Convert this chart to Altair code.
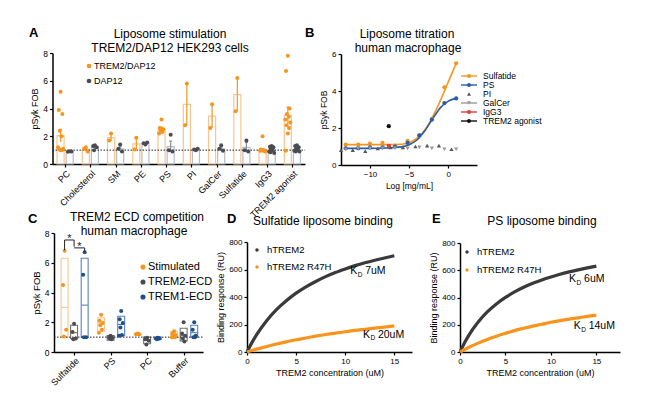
import altair as alt
import pandas as pd

W, H = 634, 381
FONT = "Liberation Sans"


def px(v):
    return v - 8


def py(v):
    return v - 8


ORANGE = "#F7941D"
ORANGE_L = "#F8C590"
DGRAY = "#4B4B53"
LGRAY = "#B5BEC8"
BLUE = "#1F4E8C"
BLUE_L = "#5A80BA"

# ---------------- Panel A data ----------------
cats_a = ["PC", "Cholesterol", "SM", "PE", "PS", "PI", "GalCer", "Sulfatide", "IgG3", "TREM2 agonist"]
series_a = ["TREM2/DAP12", "DAP12"]
trem_mean = [2.05, 1.05, 1.9, 1.45, 2.5, 4.3, 3.45, 5.0, 1.0, 3.5]
trem_sem = [0.45, 0.1, 0.25, 0.4, 0.15, 1.5, 0.85, 1.2, 0.1, 0.6]
dap_mean = [0.9, 1.2, 1.1, 1.5, 1.25, 1.05, 1.1, 1.2, 1.0, 1.0]
dap_sem = [0.02, 0.08, 0.15, 0.05, 0.4, 0.04, 0.12, 0.35, 0.06, 0.06]
trem_pts = [
    [5.2, 3.9, 3.6, 2.4, 2.0, 1.2, 1.1, 1.05, 1.0, 1.0],
    [1.2, 1.1, 0.9],
    [2.2, 1.7],
    [1.9, 1.05],
    [3.2, 2.6, 2.5, 2.4, 2.3, 2.2],
    [5.8, 2.8],
    [4.3, 2.6],
    [6.2, 3.8],
    [2.0, 1.05, 1.0, 1.0, 0.95, 0.95, 0.9, 1.0],
    [7.8, 6.7, 4.0, 3.6, 3.4, 3.2, 3.0, 2.8, 2.6, 2.2, 0.95],
]
dap_pts = [
    [0.92, 0.88, 0.9],
    [1.35, 1.3, 1.2, 1.0],
    [1.4, 1.1, 0.9],
    [1.4, 1.5, 1.55],
    [2.1, 1.0, 0.9],
    [1.0, 1.05, 1.1],
    [1.35, 1.1, 0.95],
    [1.7, 1.0, 0.9],
    [1.3, 1.25, 1.2, 1.1, 1.0, 0.9, 0.8, 0.85],
    [1.35, 1.3, 1.2, 1.1, 1.0, 0.95, 0.9, 0.9],
]
jitter = [0.0, -0.07, 0.07, -0.035, 0.035, -0.1, 0.1, -0.05, 0.05, 0.0, -0.08]
ref_line = 1.0

# ---------------- Panel B data ----------------
series_b = ["Sulfatide", "PS", "PI", "GalCer", "IgG3", "TREM2 agonist"]
colors_b = [ORANGE, "#2A5CA8", "#555555", "#9A9A9A", "#E53935", "#111111"]
shapes_b = ["circle", "circle", "triangle-up", "triangle-down", "circle", "circle"]
legend_line_b = [True, True, False, True, True, True]
b_x = [-13.1, -11.5, -10.0, -8.4, -6.8, -5.2, -3.7, -2.1, -0.5, 1.0]
b_sulf = [1.1, 1.1, 1.15, 1.2, 1.05, 1.3, 1.6, 2.5, 4.2, 5.5]
b_ps = [0.9, 0.9, 0.95, 0.95, 1.0, 1.2, 1.6, 2.45, 3.35, 3.6]
b_pi_x = [-13.7, -12.2, -10.6, -9.0, -7.4, -5.8, -4.2, -2.7, -1.2, 0.4]
b_pi = [0.8, 0.8, 0.75, 0.9, 0.95, 0.95, 1.0, 1.05, 1.05, 0.85]
b_galcer = [0.85, 0.9, 0.9, 0.9, 0.9, 0.9, 0.95, 0.9, 0.85, 0.85]
b_igg3_x, b_igg3 = [-7.6], [1.04]
b_ago_x, b_ago = [-7.6], [2.1]
b_fit_x = [-13.1, -10.0, -8.0, -6.0, -5.0, -4.0, -3.0, -2.0, -1.0, 0.0, 1.0]
b_sulf_fit = [1.1, 1.1, 1.1, 1.12, 1.2, 1.45, 1.9, 2.6, 3.5, 4.5, 5.5]
b_ps_fit = [0.9, 0.9, 0.92, 0.98, 1.1, 1.35, 1.85, 2.5, 3.1, 3.45, 3.6]

# ---------------- Panel C data ----------------
cats_c = ["Sulfatide", "PS", "PC", "Buffer"]
series_c = ["Stimulated", "TREM2-ECD", "TREM1-ECD"]
offs_c = [-0.26, 0.0, 0.29]
point_col_c = [ORANGE, DGRAY, BLUE]
box_col_c = [ORANGE_L, "#707070", BLUE_L]
stim_lo, stim_hi, stim_mid = [1.0, 1.4, 1.15, 1.0], [6.3, 2.3, 1.25, 1.4], [3.0, 1.9, 1.2, 1.15]
t2_lo, t2_hi, t2_mid = [0.9, 0.8, 0.55, 0.75], [1.8, 1.1, 1.0, 1.6], [1.3, 0.95, 0.8, 1.1]
t1_lo, t1_hi, t1_mid = [1.0, 1.1, 0.85, 1.0], [6.3, 2.4, 1.0, 1.8], [3.15, 1.85, 0.9, 1.3]
stim_pts = [[6.8, 4.5, 1.5, 1.05], [2.5, 2.1, 1.95, 1.8, 1.5, 1.3], [1.25, 1.2, 1.2, 1.2], [1.4, 1.25, 1.15, 1.1, 1.0, 1.0]]
t2_pts = [[1.9, 1.35, 0.9, 0.85], [1.1, 1.0, 0.95, 0.9, 0.85], [0.95, 0.85, 0.75, 0.5], [2.0, 1.25, 1.1, 0.9, 0.7]]
t1_pts = [[6.7, 5.2, 1.0, 1.0], [2.75, 2.2, 1.95, 1.65, 1.15, 1.1], [0.95, 0.9, 0.9, 0.85, 0.9], [2.0, 1.5, 1.1, 1.0, 1.0]]
br_x0, br_x1 = [-0.26, 0.0], [0.0, 0.29]
br_y, br_leg0, br_leg1 = [7.53, 7.0], [6.85, 7.0], [7.08, 6.74]

# ---------------- Panels D / E data ----------------
series_de = ["hTREM2", "hTREM2 R47H"]
conc = [0, 0.5, 1, 2, 3, 4, 5, 6, 7, 8, 9, 10, 11, 12, 13, 14, 15]
d_wt = [0, 68, 128, 228, 308, 373, 428, 474, 513, 548, 578, 604, 628, 649, 667, 684, 700]
d_mut = [0, 11, 21, 40, 58, 74, 89, 102, 115, 127, 137, 147, 157, 165, 173, 181, 190]
e_wt = [0, 68, 126, 220, 294, 353, 401, 441, 475, 504, 529, 551, 571, 588, 603, 617, 630]
e_mut = [0, 18, 35, 65, 92, 116, 137, 157, 174, 190, 204, 218, 230, 241, 251, 261, 270]
kd_d_x, kd_d_y, kd_d_txt = [10.5, 11.8], [567, 102], ["7uM", "20uM"]
kd_e_x, kd_e_y, kd_e_txt = [12.0, 12.5], [511, 167], ["6uM", "14uM"]


# ---------------- helpers ----------------
def lin(dom, r0, r1):
    return alt.Scale(domain=dom, range=[r0, r1], nice=False, zero=False)


A_X = lin([-0.5, 9.5], px(52.5), px(305))
A_Y = lin([0, 8], py(164), py(53))
B_X = lin([-13.7, 3.66], px(341), px(477))
B_Y = lin([0, 6], py(165), py(54))
C_X = lin([-0.55, 3.53], px(54), px(203))
C_Y = lin([0, 8], py(352), py(233))
D_X = lin([0, 16.8], px(247), px(412))
D_Y = lin([0, 800], py(352), py(242))
E_X = lin([0, 17.6], px(460), px(620))
E_Y = lin([0, 800], py(352), py(243))


def X(field, sc, axis=None):
    return alt.X(field, type="quantitative", scale=sc, axis=axis)


def Y(field, sc, axis=None):
    return alt.Y(field, type="quantitative", scale=sc, axis=axis)


def xaxis(bottom, values, title, **kw):
    return alt.Axis(orient="bottom", offset=py(bottom) - H, values=values, title=title,
                    labelFlush=False, labelOverlap=False, **kw)


def yaxis(left, values, title, **kw):
    return alt.Axis(orient="left", offset=-px(left), values=values, title=title,
                    labelFlush=False, labelOverlap=False, **kw)


def txt(s, x, y, size=12, weight="normal", align="center"):
    return alt.Chart(pd.DataFrame({"t": [s]})).mark_text(
        fontSize=size, fontWeight=weight, align=align, baseline="alphabetic", font=FONT, color="black"
    ).encode(x=alt.value(px(x)), y=alt.value(py(y)), text="t:N")


def label_expr(names):
    return "[" + ",".join("'" + n + "'" for n in names) + "][datum.value]"


layers = []

# ---------------- Panel A ----------------
rows = []
for i in range(len(cats_a)):
    rows.append(dict(s=series_a[0], xc=i - 0.18, m=trem_mean[i], e=trem_sem[i]))
    rows.append(dict(s=series_a[1], xc=i + 0.18, m=dap_mean[i], e=dap_sem[i]))
bar_a = pd.DataFrame(rows)
bar_a["x0"] = bar_a.xc - 0.14
bar_a["x1"] = bar_a.xc + 0.14
bar_a["b"] = 0.0
bar_a["lo"] = bar_a.m - bar_a.e
bar_a["hi"] = bar_a.m + bar_a.e
bar_a["c0"] = bar_a.xc - 0.06
bar_a["c1"] = bar_a.xc + 0.06

prow = []
for i in range(len(cats_a)):
    for k, v in enumerate(trem_pts[i]):
        prow.append(dict(s=series_a[0], x=i - 0.18 + jitter[k % len(jitter)], v=v))
    for k, v in enumerate(dap_pts[i]):
        prow.append(dict(s=series_a[1], x=i + 0.18 + jitter[k % len(jitter)], v=v))
pts_a = pd.DataFrame(prow)

col_a_err = alt.Color("s:N", scale=alt.Scale(domain=series_a, range=[ORANGE, "#8A939C"]), legend=None)
col_a_pt = alt.Color("s:N", scale=alt.Scale(domain=series_a, range=[ORANGE, DGRAY]), legend=None)

layers.append(alt.Chart(bar_a).mark_rect(fill="white", fillOpacity=0.4, strokeWidth=1.2).encode(
    x=X("x0", A_X, xaxis(164, list(range(len(cats_a))), None, labelExpr=label_expr(cats_a), labelAngle=-45,
                          labelAlign="right", labelBaseline="top", labelFontSize=9)),
    x2="x1:Q",
    y=Y("m", A_Y, yaxis(52.5, [0, 2, 4, 6, 8], "pSyk FOB")),
    y2="b:Q",
    stroke=alt.Stroke("s:N", scale=alt.Scale(domain=series_a, range=[ORANGE_L, LGRAY]), legend=None),
))
layers.append(alt.Chart(bar_a).mark_rule(strokeWidth=1.2).encode(
    x=X("xc", A_X), y=Y("lo", A_Y), y2="hi:Q", color=col_a_err))
layers.append(alt.Chart(bar_a).mark_rule(strokeWidth=1.2).encode(
    x=X("c0", A_X), x2="c1:Q", y=Y("hi", A_Y), color=col_a_err))
layers.append(alt.Chart(pd.DataFrame({"x0": [-0.5], "x1": [9.5], "y": [ref_line]})).mark_rule(
    color="#222222", strokeDash=[1.5, 1.5], strokeWidth=1).encode(
    x=X("x0", A_X), x2="x1:Q", y=Y("y", A_Y)))
layers.append(alt.Chart(pts_a).mark_circle(size=16, opacity=1).encode(
    x=X("x", A_X), y=Y("v", A_Y), color=col_a_pt))

leg_a = pd.DataFrame({"s": series_a, "r": list(range(len(series_a)))})
LA_Y = lin([0, 1], py(66), py(81))
layers.append(alt.Chart(leg_a).mark_circle(size=22, opacity=1).encode(
    x=alt.value(px(89)), y=Y("r", LA_Y), color=col_a_pt))
layers.append(alt.Chart(leg_a).mark_text(align="left", baseline="middle", fontSize=9, font=FONT, color="black").encode(
    x=alt.value(px(94)), y=Y("r", LA_Y), text="s:N"))

# ---------------- Panel B ----------------
brow = []
for x, v in zip(b_x, b_sulf):
    brow.append(dict(s="Sulfatide", x=x, v=v))
for x, v in zip(b_x, b_ps):
    brow.append(dict(s="PS", x=x, v=v))
for x, v in zip(b_pi_x, b_pi):
    brow.append(dict(s="PI", x=x, v=v))
for x, v in zip(b_x, b_galcer):
    brow.append(dict(s="GalCer", x=x, v=v))
for x, v in zip(b_igg3_x, b_igg3):
    brow.append(dict(s="IgG3", x=x, v=v))
for x, v in zip(b_ago_x, b_ago):
    brow.append(dict(s="TREM2 agonist", x=x, v=v))
pts_b = pd.DataFrame(brow)
fit_b = pd.DataFrame(
    [dict(s="Sulfatide", x=x, v=v) for x, v in zip(b_fit_x, b_sulf_fit)]
    + [dict(s="PS", x=x, v=v) for x, v in zip(b_fit_x, b_ps_fit)])

col_b = alt.Color("s:N", scale=alt.Scale(domain=series_b, range=colors_b), legend=None)
shp_b = alt.Shape("s:N", scale=alt.Scale(domain=series_b, range=shapes_b), legend=None)

layers.append(alt.Chart(fit_b).mark_line(interpolate="monotone", strokeWidth=1.6).encode(
    x=X("x", B_X, xaxis(165, [-10, -5, 0], "Log [mg/mL]", labelFontSize=8, titleFontSize=8.5)),
    y=Y("v", B_Y, yaxis(341, [0, 2, 4, 6], "pSyk FOB", labelFontSize=8, titleFontSize=8.5)),
    color=col_b, detail="s:N"))
layers.append(alt.Chart(pts_b).mark_point(filled=True, size=18, opacity=1).encode(
    x=X("x", B_X), y=Y("v", B_Y), color=col_b, shape=shp_b))

leg_b = pd.DataFrame({"s": series_b, "r": list(range(len(series_b))), "line": legend_line_b})
LB_Y = lin([0, 5], py(76), py(121))
layers.append(alt.Chart(leg_b[leg_b.line]).mark_rule(strokeWidth=1.4).encode(
    x=alt.value(px(461)), x2=alt.value(px(477)), y=Y("r", LB_Y), color=col_b))
layers.append(alt.Chart(leg_b).mark_point(filled=True, size=16, opacity=1).encode(
    x=alt.value(px(469)), y=Y("r", LB_Y), color=col_b, shape=shp_b))
layers.append(alt.Chart(leg_b).mark_text(align="left", baseline="middle", fontSize=8.5, font=FONT, color="black").encode(
    x=alt.value(px(483)), y=Y("r", LB_Y), text="s:N"))

# ---------------- Panel C ----------------
lo_c = [stim_lo, t2_lo, t1_lo]
hi_c = [stim_hi, t2_hi, t1_hi]
mid_c = [stim_mid, t2_mid, t1_mid]
pts_c_all = [stim_pts, t2_pts, t1_pts]
crow, cprow = [], []
for j, s in enumerate(series_c):
    for i in range(len(cats_c)):
        xc = i + offs_c[j]
        crow.append(dict(s=s, xc=xc, x0=xc - 0.095, x1=xc + 0.095, lo=lo_c[j][i], hi=hi_c[j][i], mid=mid_c[j][i]))
        for k, v in enumerate(pts_c_all[j][i]):
            cprow.append(dict(s=s, x=xc + 0.6 * jitter[k % len(jitter)], v=v))
box_c = pd.DataFrame(crow)
pts_c = pd.DataFrame(cprow)
col_c_box = alt.Color("s:N", scale=alt.Scale(domain=series_c, range=box_col_c), legend=None)
col_c_pt = alt.Color("s:N", scale=alt.Scale(domain=series_c, range=point_col_c), legend=None)

layers.append(alt.Chart(box_c).mark_rect(fill="white", fillOpacity=0.4, strokeWidth=1.1).encode(
    x=X("x0", C_X, xaxis(352, list(range(len(cats_c))), None, labelExpr=label_expr(cats_c), labelAngle=-45,
                          labelAlign="right", labelBaseline="top", labelFontSize=9, labelPadding=1)),
    x2="x1:Q",
    y=Y("lo", C_Y, yaxis(54, [0, 2, 4, 6, 8], "pSyk FOB", titleFontSize=9.5)),
    y2="hi:Q",
    stroke=alt.Stroke("s:N", scale=alt.Scale(domain=series_c, range=box_col_c), legend=None)))
layers.append(alt.Chart(box_c).mark_rule(strokeWidth=1.1).encode(
    x=X("x0", C_X), x2="x1:Q", y=Y("mid", C_Y), color=col_c_box))
layers.append(alt.Chart(pd.DataFrame({"x0": [-0.55], "x1": [3.53], "y": [ref_line]})).mark_rule(
    color="#222222", strokeDash=[1.5, 1.5], strokeWidth=1).encode(
    x=X("x0", C_X), x2="x1:Q", y=Y("y", C_Y)))
layers.append(alt.Chart(pts_c).mark_circle(size=16, opacity=1).encode(
    x=X("x", C_X), y=Y("v", C_Y), color=col_c_pt))

br = pd.DataFrame({"x0": br_x0, "x1": br_x1, "y": br_y, "l0": br_leg0, "l1": br_leg1})
br["xm"] = (br.x0 + br.x1) / 2
br["ys"] = br.y - 0.12
br["star"] = "*"
layers.append(alt.Chart(br).mark_rule(color="#222222", strokeWidth=1).encode(
    x=X("x0", C_X), x2="x1:Q", y=Y("y", C_Y)))
layers.append(alt.Chart(br).mark_rule(color="#222222", strokeWidth=1).encode(
    x=X("x0", C_X), y=Y("l0", C_Y), y2="y:Q"))
layers.append(alt.Chart(br).mark_rule(color="#222222", strokeWidth=1).encode(
    x=X("x1", C_X), y=Y("l1", C_Y), y2="y:Q"))
layers.append(alt.Chart(br).mark_text(fontSize=11, font=FONT, baseline="alphabetic", color="#222222").encode(
    x=X("xm", C_X), y=Y("ys", C_Y), text="star:N"))

leg_c = pd.DataFrame({"s": series_c, "r": list(range(len(series_c)))})
LC_Y = lin([0, 2], py(267), py(297))
layers.append(alt.Chart(leg_c).mark_circle(size=26, opacity=1).encode(
    x=alt.value(px(143)), y=Y("r", LC_Y), color=col_c_pt))
layers.append(alt.Chart(leg_c).mark_text(align="left", baseline="middle", fontSize=11, font=FONT, color="black").encode(
    x=alt.value(px(148)), y=Y("r", LC_Y), text="s:N"))

# ---------------- Panels D and E ----------------
col_de = alt.Color("s:N", scale=alt.Scale(domain=series_de, range=["#3A3A3A", ORANGE]), legend=None)


def binding_panel(wt, mut, SX, SY, left, kx, ky, kt, leg_x, leg_y0, leg_y1):
    df = pd.DataFrame([dict(s=series_de[0], x=c, v=v) for c, v in zip(conc, wt)]
                      + [dict(s=series_de[1], x=c, v=v) for c, v in zip(conc, mut)])
    out = [alt.Chart(df).mark_line(interpolate="monotone", strokeWidth=3.2).encode(
        x=X("x", SX, xaxis(352, [0, 5, 10, 15], "TREM2 concentration (uM)", labelFontSize=8, titleFontSize=9)),
        y=Y("v", SY, yaxis(left, [0, 200, 400, 600, 800], "Binding response (RU)", labelFontSize=8, titleFontSize=9)),
        color=col_de, detail="s:N")]
    kd = pd.DataFrame({"x": kx, "y": ky, "t": kt, "k": ["K"] * len(kt), "d": ["D"] * len(kt)})
    out.append(alt.Chart(kd).mark_text(align="left", baseline="alphabetic", fontSize=10.5, font=FONT, color="black").encode(
        x=X("x", SX), y=Y("y", SY), text="k:N"))
    out.append(alt.Chart(kd).mark_text(align="left", baseline="alphabetic", fontSize=6.5, font=FONT, color="black", dx=7.5, dy=2.5).encode(
        x=X("x", SX), y=Y("y", SY), text="d:N"))
    out.append(alt.Chart(kd).mark_text(align="left", baseline="alphabetic", fontSize=10.5, font=FONT, color="black", dx=15).encode(
        x=X("x", SX), y=Y("y", SY), text="t:N"))
    leg = pd.DataFrame({"s": series_de, "r": [0, 1]})
    LY = lin([0, 1], py(leg_y0), py(leg_y1))
    out.append(alt.Chart(leg).mark_circle(size=12, opacity=1).encode(
        x=alt.value(px(leg_x)), y=Y("r", LY), color=col_de))
    out.append(alt.Chart(leg).mark_text(align="left", baseline="middle", fontSize=9.5, font=FONT, color="black").encode(
        x=alt.value(px(leg_x + 10)), y=Y("r", LY), text="s:N"))
    return out


layers += binding_panel(d_wt, d_mut, D_X, D_Y, 247, kd_d_x, kd_d_y, kd_d_txt, 257, 250, 267)
layers += binding_panel(e_wt, e_mut, E_X, E_Y, 460, kd_e_x, kd_e_y, kd_e_txt, 467, 252, 270)

# ---------------- titles and panel letters ----------------
titles = [
    ("A", 29, 37, 13, "bold", "left"),
    ("Liposome stimulation", 170, 37.5, 12, "normal", "center"),
    ("TREM2/DAP12 HEK293 cells", 170, 52, 12, "normal", "center"),
    ("B", 305, 37, 13, "bold", "left"),
    ("Liposome titration", 407, 37.5, 12, "normal", "center"),
    ("human macrophage", 408, 51.5, 12, "normal", "center"),
    ("C", 28, 223, 13, "bold", "left"),
    ("TREM2 ECD competition", 137, 221, 12, "normal", "center"),
    ("human macrophage", 134, 235, 12, "normal", "center"),
    ("D", 227, 223, 13, "bold", "left"),
    ("Sulfatide liposome binding", 323, 225, 12, "normal", "center"),
    ("E", 432, 223, 13, "bold", "left"),
    ("PS liposome binding", 542, 225, 12, "normal", "center"),
]
for t in titles:
    layers.append(txt(*t))

chart = alt.layer(*layers).resolve_scale(
    x="independent", y="independent", color="independent", stroke="independent", shape="independent"
).resolve_axis(x="independent", y="independent").properties(
    width=W, height=H, padding=0, autosize=alt.AutoSizeParams(type="none"), background="white"
).configure_axis(
    grid=False, domainColor="black", tickColor="black", labelColor="black", titleColor="black",
    labelFont=FONT, titleFont=FONT, titleFontWeight="normal", labelFontSize=8.5, titleFontSize=9,
    domainWidth=1.5, tickWidth=1.2, tickSize=3, titlePadding=3, labelPadding=2
).configure_view(strokeWidth=0)

chart.save("out.html", embed_options={"renderer": "svg", "actions": False})
